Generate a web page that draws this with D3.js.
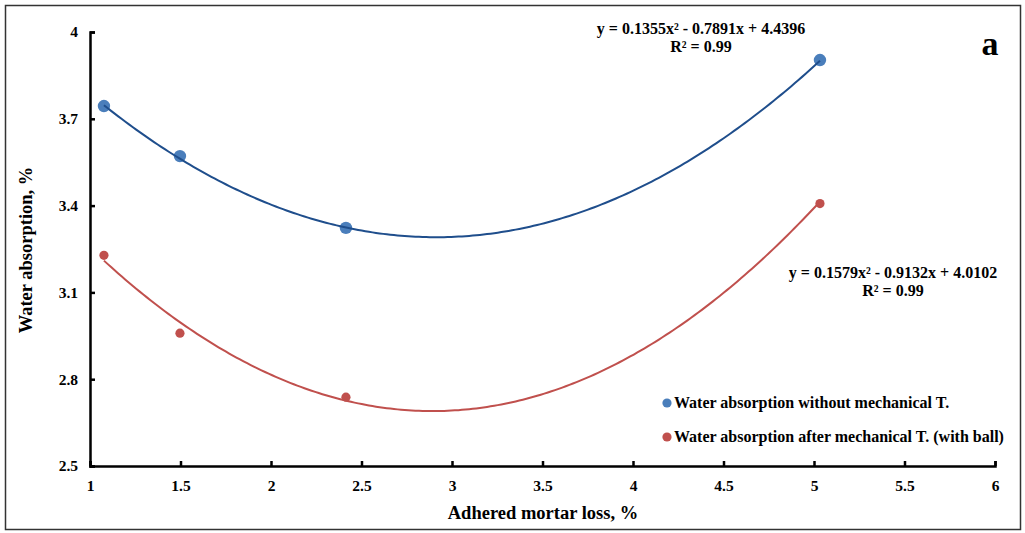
<!DOCTYPE html>
<html><head><meta charset="utf-8">
<script src="https://cdn.jsdelivr.net/npm/d3@7"></script>
<style>body{margin:0;background:#fff}svg{display:block}text{font-family:"Liberation Serif","Times New Roman",serif;font-weight:bold}</style>
</head><body><svg id="c" width="1025" height="533"></svg>
<script>
const xTicks = [1,1.5,2,2.5,3,3.5,4,4.5,5,5.5,6];
const yTicks = [2.5,2.8,3.1,3.4,3.7,4];
const mortarLoss = [1.077, 1.497, 2.414, 5.033];
const absWithout = [3.744, 3.571, 3.323, 3.903];
const absAfter = [3.228, 2.959, 2.738, 3.407];
const coefWithout = [0.1355, -0.7891, 4.4396];
const coefAfter = [0.1579, -0.9132, 4.0102];
const seriesNames = ["Water absorption without mechanical T.", "Water absorption after mechanical T. (with ball)"];
const eqWithout = ["y = 0.1355x\u00B2 - 0.7891x + 4.4396", "R\u00B2 = 0.99"];
const eqAfter = ["y = 0.1579x\u00B2 - 0.9132x + 4.0102", "R\u00B2 = 0.99"];

const svg = d3.select("#c");
svg.append("rect").attr("x",5.5).attr("y",5.5).attr("width",1015).attr("height",524)
  .attr("fill","#fff").attr("stroke","#333").attr("stroke-width",1.5);

const x = d3.scaleLinear().domain([1,6]).range([90,995]);
const y = d3.scaleLinear().domain([2.5,4]).range([466,32]);

const xAxis = svg.append("g").attr("transform","translate(0,466)")
  .call(d3.axisBottom(x).tickValues(xTicks).tickSize(-5).tickPadding(14).tickFormat(d3.format("")));
const yAxis = svg.append("g").attr("transform","translate(90,0)")
  .call(d3.axisLeft(y).tickValues(yTicks).tickSize(-5).tickPadding(12).tickFormat(d=>d===4?"4":d===2.5?"2.5":d3.format(".1f")(d)));
[xAxis,yAxis].forEach(a=>{
  a.attr("font-family",null);
  a.selectAll("path").attr("stroke","#000").attr("stroke-width",2.5);
  a.selectAll("line").attr("stroke","#000").attr("stroke-width",2.5);
  a.selectAll("text").attr("font-size",15.5).attr("fill","#000");
});

function trend(coef, x0, x1){
  const xs = d3.range(0,201).map(i=>x0+(x1-x0)*i/200);
  return xs.map(v=>[v, coef[0]*v*v+coef[1]*v+coef[2]]);
}
const line = d3.line().x(d=>x(d[0])).y(d=>y(d[1]));
const xmin = d3.min(mortarLoss), xmax = d3.max(mortarLoss);

svg.append("g").selectAll("circle").data(mortarLoss).join("circle")
  .attr("cx",d=>x(d)).attr("cy",(d,i)=>y(absWithout[i])).attr("r",6.2).attr("fill","#4a7ebb");
svg.append("g").selectAll("circle").data(mortarLoss).join("circle")
  .attr("cx",d=>x(d)).attr("cy",(d,i)=>y(absAfter[i])).attr("r",4.6).attr("fill","#c0504d");

svg.append("path").datum(trend(coefWithout,xmin,xmax)).attr("d",line)
  .attr("fill","none").attr("stroke","#1f4e8c").attr("stroke-width",2);
svg.append("path").datum(trend(coefAfter,xmin,xmax)).attr("d",line)
  .attr("fill","none").attr("stroke","#c0504d").attr("stroke-width",2);

function eq(lines, cx, y0){
  lines.forEach((t,i)=>svg.append("text").attr("x",cx).attr("y",y0+i*18).attr("text-anchor","middle")
    .attr("font-size",16).attr("fill","#000").text(t));
}
eq(eqWithout, 701, 34);
eq(eqAfter, 893, 278);

svg.append("text").attr("x",990).attr("y",55).attr("text-anchor","middle").attr("font-size",34).attr("fill","#000").text("a");

const lg = [[seriesNames[0],"#4a7ebb",403],[seriesNames[1],"#c0504d",437]];
lg.forEach(([t,c,yy])=>{
  svg.append("circle").attr("cx",667).attr("cy",yy).attr("r",4.6).attr("fill",c);
  svg.append("text").attr("x",674).attr("y",yy+5).attr("font-size",16).attr("fill","#000").text(t);
});

svg.append("text").attr("x",543).attr("y",519).attr("text-anchor","middle").attr("font-size",18.5).attr("fill","#000").text("Adhered mortar loss, %");
svg.append("text").attr("transform","translate(32,250) rotate(-90)").attr("text-anchor","middle").attr("font-size",18.5).attr("fill","#000").text("Water absorption, %");
</script></body></html>
